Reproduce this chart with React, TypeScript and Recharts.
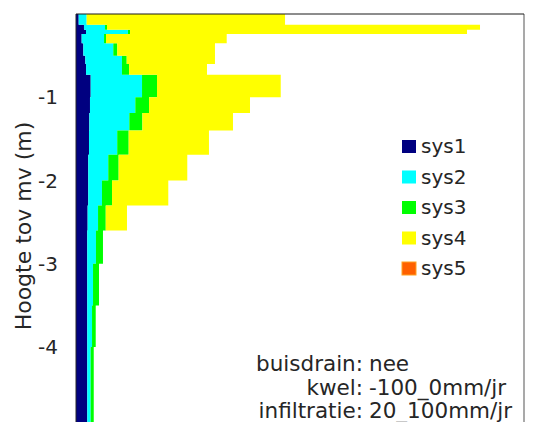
import { ComposedChart, Area, XAxis, YAxis, ReferenceLine } from "recharts";

// top of each layer (m below surface); last entry closes the bottom layer
const depths = [0, -0.13, -0.19, -0.24, -0.35, -0.5, -0.6, -0.73, -1.0, -1.19, -1.4, -1.69, -2.0, -2.3, -2.6, -3.0, -3.5, -4.0, -5.0];
const sys1 = [0.3, 0.89, 1.12, 0.63, 0.82, 1.04, 1.12, 1.64, 1.56, 1.49, 1.45, 1.37, 1.37, 1.3, 1.26, 1.26, 1.26, 1.26, 1.26];
const sys2 = [0.89, 2.35, 4.68, 2.5, 3.34, 4.09, 4.01, 5.73, 5.06, 4.46, 3.15, 2.23, 1.53, 1.16, 0.97, 0.64, 0.53, 0.38, 0.38];
const sys3 = [0, 0.22, 0.23, 0.22, 0.45, 0.53, 0.79, 1.67, 1.53, 1.46, 1.28, 1.16, 1.12, 0.86, 0.78, 0.67, 0.41, 0.34, 0.34];
const sys4 = [22.14, 41.63, 37.61, 13.47, 10.9, 9.85, 8.7, 13.81, 11.27, 10.11, 8.96, 7.66, 6.28, 2.37, 0, 0, 0, 0, 0];
const sys5 = [0, 0, 0, 0, 0, 0, 0, 0, 0, 0, 0, 0, 0, 0, 0, 0, 0, 0, 0];

const seriesNames = ["sys1", "sys2", "sys3", "sys4", "sys5"];
const seriesColors = ["#000080", "#00ffff", "#00ff00", "#ffff00", "#ff6000"];
const seriesValues = [sys1, sys2, sys3, sys4, sys5];

const xTicks = [0, 10, 20, 30, 40, 50];
const yTicks = [-4, -3, -2, -1];

const infoLabels = ["buisdrain:", "kwel:", "infiltratie:"];
const infoValues = ["nee", "-100_0mm/jr", "20_100mm/jr"];

const data = depths.map((depth, i) => {
  const row: Record<string, number> = { depth };
  seriesNames.forEach((name, s) => {
    row[name] = seriesValues[s][i];
  });
  return row;
});

const font = "'DejaVu Sans', Verdana, sans-serif";
const textColor = "#262626";

export default function App() {
  return (
    <div
      style={{
        position: "absolute",
        top: 0,
        left: 0,
        width: 539,
        height: 422,
        overflow: "hidden",
        background: "#fff",
        fontFamily: font,
      }}
    >
      <ComposedChart
        width={539}
        height={422}
        data={data}
        layout="vertical"
        margin={{ top: 0, right: 15, bottom: 0, left: 0 }}
      >
        <XAxis
          type="number"
          orientation="top"
          domain={[0, 50]}
          ticks={xTicks}
          tick={false}
          tickSize={8}
          height={14}
          stroke="#1a1a1a"
        />
        <YAxis
          type="number"
          dataKey="depth"
          domain={[-4.9, 0]}
          ticks={yTicks}
          reversed
          allowDataOverflow
          width={76}
          tickLine={false}
          tickSize={8}
          tickMargin={10}
          stroke="#262626"
          tick={{ fill: textColor, fontSize: 20, fontFamily: font }}
        />
        {seriesNames.map((name, s) => (
          <Area
            key={name}
            type="stepBefore"
            dataKey={name}
            stackId="a"
            fill={seriesColors[s]}
            fillOpacity={1}
            stroke="none"
            dot={false}
            activeDot={false}
            isAnimationActive={false}
          />
        ))}
        <ReferenceLine x={50} stroke="#8c8c8c" strokeWidth={1.5} />
      </ComposedChart>
      <svg
        width={539}
        height={422}
        style={{ position: "absolute", top: 0, left: 0, pointerEvents: "none" }}
      >
        <text
          x={31}
          y={226}
          transform="rotate(-90 31 226)"
          textAnchor="middle"
          fontSize={22}
          fontFamily={font}
          fill={textColor}
        >
          Hoogte tov mv (m)
        </text>
        {seriesNames.map((name, s) => (
          <g key={name}>
            <rect
              x={402}
              y={140 + s * 30.5}
              width={14}
              height={13}
              fill={seriesColors[s]}
              stroke={name === "sys5" ? "#ffa020" : "none"}
            />
            <text
              x={421}
              y={153 + s * 30.5}
              fontSize={20}
              fontFamily={font}
              fill={textColor}
            >
              {name}
            </text>
          </g>
        ))}
        {infoLabels.map((label, i) => (
          <g key={label}>
            <text
              x={363}
              y={371 + i * 23.5}
              textAnchor="end"
              fontSize={21.5}
              fontFamily={font}
              fill={textColor}
            >
              {label}
            </text>
            <text
              x={369}
              y={371 + i * 23.5}
              fontSize={21.5}
              fontFamily={font}
              fill={textColor}
            >
              {infoValues[i]}
            </text>
          </g>
        ))}
      </svg>
    </div>
  );
}
